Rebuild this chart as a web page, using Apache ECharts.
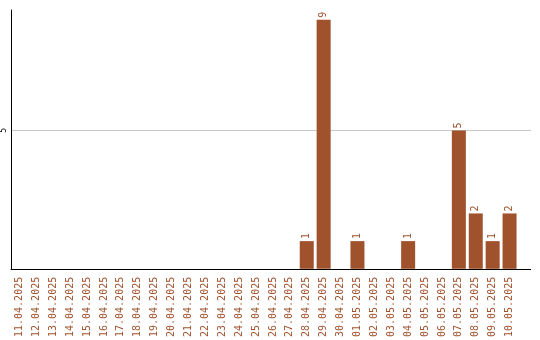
<!DOCTYPE html>
<html>
<head>
<meta charset="utf-8">
<script src="https://cdn.jsdelivr.net/npm/echarts@6/dist/echarts.min.js"></script>
<style>
  html, body { margin: 0; padding: 0; background: #fff; }
  #chart { width: 540px; height: 340px; }
</style>
</head>
<body>
<div id="chart"></div>
<script>
// Daily counts, 11.04.2025 – 10.05.2025
const days = [
  '11.04.2025', '12.04.2025', '13.04.2025', '14.04.2025', '15.04.2025',
  '16.04.2025', '17.04.2025', '18.04.2025', '19.04.2025', '20.04.2025',
  '21.04.2025', '22.04.2025', '23.04.2025', '24.04.2025', '25.04.2025',
  '26.04.2025', '27.04.2025', '28.04.2025', '29.04.2025', '30.04.2025',
  '01.05.2025', '02.05.2025', '03.05.2025', '04.05.2025', '05.05.2025',
  '06.05.2025', '07.05.2025', '08.05.2025', '09.05.2025', '10.05.2025'
];
const counts = [
  0, 0, 0, 0, 0, 0, 0, 0, 0, 0,
  0, 0, 0, 0, 0, 0, 0, 1, 9, 0,
  1, 0, 0, 1, 0, 0, 5, 2, 1, 2
];
const yTicks = [5];

const barColor = '#a0522d';
const mono = '"DejaVu Sans Mono", monospace';

const chart = echarts.init(document.getElementById('chart'));
chart.setOption({
  animation: false,
  grid: { left: 10, top: 10, width: 508, height: 260, containLabel: false },
  xAxis: {
    type: 'category',
    data: days,
    axisLine: { lineStyle: { color: '#000', width: 1 } },
    axisTick: { show: false },
    axisLabel: {
      rotate: 90,
      interval: 0,
      margin: 8,
      color: barColor,
      fontFamily: mono,
      fontSize: 10
    }
  },
  yAxis: {
    type: 'value',
    min: 0,
    max: 9.35,
    interval: 5,
    axisLine: { show: true, lineStyle: { color: '#000', width: 1 } },
    axisTick: { show: false },
    splitLine: {
      showMinLine: false,
      showMaxLine: false,
      lineStyle: { color: '#c8c8c8', width: 1 }
    },
    axisLabel: {
      margin: 3,
      rotate: 90,
      color: '#000',
      fontFamily: mono,
      fontSize: 8,
      formatter: v => (yTicks.indexOf(v) >= 0 ? String(v) : '')
    }
  },
  series: [{
    type: 'bar',
    data: counts,
    barWidth: 14,
    itemStyle: { color: barColor },
    label: {
      show: true,
      position: 'top',
      rotate: 90,
      align: 'left',
      verticalAlign: 'middle',
      distance: 2,
      color: barColor,
      fontFamily: mono,
      fontSize: 10,
      formatter: p => (p.value > 0 ? String(p.value) : '')
    }
  }]
});

// The axis line and the grid line run on a little past the last category.
const yZero = chart.convertToPixel({ yAxisIndex: 0 }, 0);
const extra = [{ y: yZero, color: '#000' }].concat(
  yTicks.map(t => ({ y: chart.convertToPixel({ yAxisIndex: 0 }, t), color: '#c8c8c8' }))
);
chart.setOption({
  graphic: extra.map(l => ({
    type: 'line',
    shape: { x1: 518, y1: Math.round(l.y) + 0.5, x2: 531, y2: Math.round(l.y) + 0.5 },
    style: { stroke: l.color, lineWidth: 1 },
    silent: true
  }))
});
</script>
</body>
</html>
